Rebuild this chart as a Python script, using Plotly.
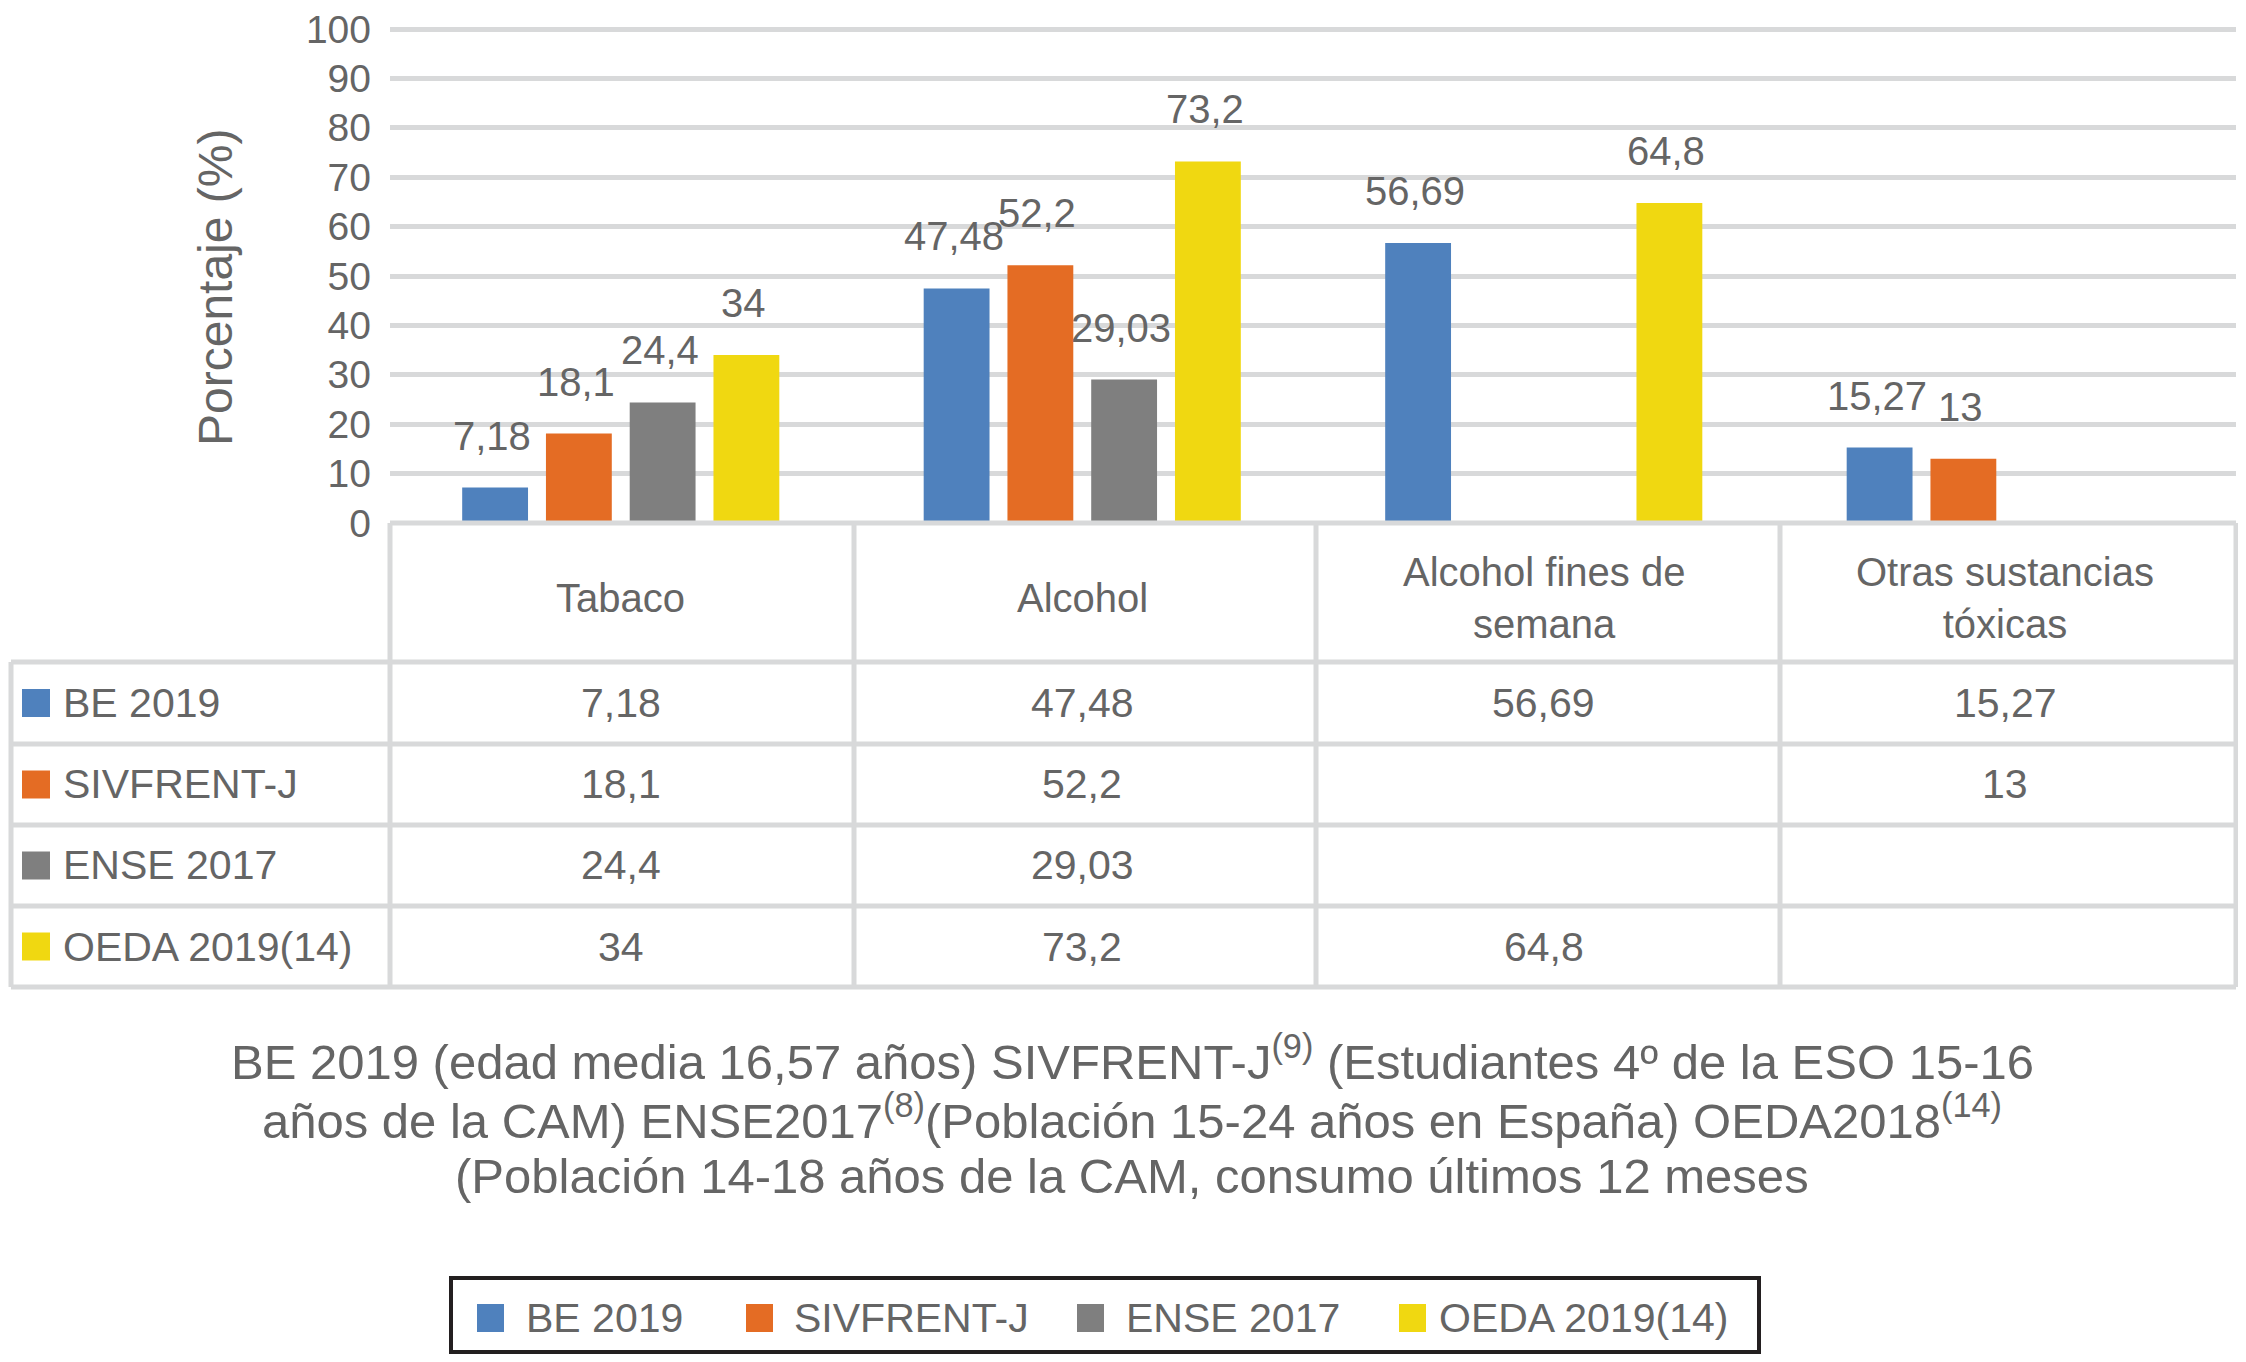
import plotly.graph_objects as go

# Consumo de sustancias: datos
categorias = ["Tabaco", "Alcohol", "Alcohol fines de semana", "Otras sustancias tóxicas"]
cabeceras = ["Tabaco", "Alcohol", "Alcohol fines de<br>semana", "Otras sustancias<br>tóxicas"]

series = ["BE 2019", "SIVFRENT-J", "ENSE 2017", "OEDA 2019(14)"]
be_2019 = [7.18, 47.48, 56.69, 15.27]
sivfrent_j = [18.1, 52.2, None, 13]
ense_2017 = [24.4, 29.03, None, None]
oeda_2019 = [34, 73.2, 64.8, None]
valores = [be_2019, sivfrent_j, ense_2017, oeda_2019]
colores = ["#4f81bd", "#e46c24", "#7f7f7f", "#f0d811"]

ticks_y = list(range(0, 101, 10))

nota = ["BE 2019 (edad media 16,57 años) SIVFRENT-J<sup>(9)</sup> (Estudiantes 4º de la ESO 15-16",
        "años de la CAM) ENSE2017<sup>(8)</sup>(Población 15-24 años en España) OEDA2018<sup>(14)</sup>",
        "(Población 14-18 años de la CAM, consumo últimos 12 meses"]

#%%
# la pagina tiene 8px de margen, la figura ocupa el resto de la ventana
MARGEN = 8
W, H = 2246 - 2 * MARGEN, 1362 - 2 * MARGEN
FONT = "Liberation Sans, Arial, sans-serif"
GRIS = "#656565"
LINEA = "#d8d9da"

def px(x):
    return (x - MARGEN) / W

def py(y):
    return 1 - (y - MARGEN) / H

def fmt(v):
    return "" if v is None else f"{v:g}".replace(".", ",")

# geometria (pixeles de la imagen de referencia)
X0, X1 = 390, 2236
Y_BASE = 523
PX_UNIDAD = 4.94
Y_MAX = 101
Y_TOP = Y_BASE - Y_MAX * PX_UNIDAD
filas = [662, 744, 825, 906, 987]
columnas = [390, 854, 1316, 1780, 2236]
X_IZQ = 11
BARGAP = 0.274

fig = go.Figure()
for nombre, vals, col in zip(series, valores, colores):
    fig.add_trace(go.Bar(x=categorias, y=vals, name=nombre, marker_color=col,
                         marker_line_width=0, showlegend=False))

anots = []
shapes = []

def texto(x, y, t, size=41, xanchor="center", **kw):
    d = dict(x=px(x), y=py(y), xref="paper", yref="paper", text=t, showarrow=False,
             xanchor=xanchor, yanchor="middle", font=dict(size=size, color=GRIS, family=FONT))
    d.update(kw)
    anots.append(d)

# etiquetas de datos sobre las barras
slot = (X1 - X0) / len(categorias) * (1 - BARGAP) / len(series)
for i, vals in enumerate(valores):
    for cat, v in zip(categorias, vals):
        if v is None:
            continue
        anots.append(dict(x=cat, y=v, xref="x", yref="y", text=fmt(v), showarrow=False,
                          xshift=(i - 1.5) * slot - 3, yshift=52, xanchor="center", yanchor="middle",
                          font=dict(size=40, color=GRIS, family=FONT)))

# titulo eje y
texto(215, 288, "Porcentaje (%)", size=48, textangle=-90)

# tabla de datos
for cat, lab in zip(categorias, cabeceras):
    anots.append(dict(x=cat, y=py(598), xref="x", yref="paper", text=lab, showarrow=False,
                      xanchor="center", yanchor="middle", font=dict(size=40, color=GRIS, family=FONT)))

for r, (nombre, vals, col) in enumerate(zip(series, valores, colores)):
    yc = (filas[r] + filas[r + 1]) / 2
    shapes.append(dict(type="rect", xref="paper", yref="paper", x0=px(22), x1=px(50),
                       y0=py(yc - 14), y1=py(yc + 14), fillcolor=col, line_width=0))
    texto(61, yc, nombre, xanchor="left")
    for cat, v in zip(categorias, vals):
        if v is None:
            continue
        anots.append(dict(x=cat, y=py(yc), xref="x", yref="paper", text=fmt(v), showarrow=False,
                          xanchor="center", yanchor="middle", font=dict(size=41, color=GRIS, family=FONT)))

def linea(x0, y0, x1, y1):
    shapes.append(dict(type="line", xref="paper", yref="paper", x0=px(x0), y0=py(y0),
                       x1=px(x1), y1=py(y1), line=dict(color=LINEA, width=5)))

linea(X0, Y_BASE, X1, Y_BASE)
for yy in filas:
    linea(X_IZQ, yy, X1, yy)
for xx in columnas:
    linea(xx, Y_BASE, xx, filas[-1])
linea(X_IZQ, filas[0], X_IZQ, filas[-1])

# nota al pie, una linea por anotacion
for yy, t in zip([1058, 1117, 1176], nota):
    texto(1132, yy, t, size=49)

# leyenda dibujada a mano
LEY_Y0, LEY_Y1 = 1278, 1352
ley_yc = 1318
shapes.append(dict(type="rect", xref="paper", yref="paper", x0=px(451), x1=px(1759),
                   y0=py(LEY_Y0), y1=py(LEY_Y1), line=dict(color="#231f20", width=4)))
ley_cuadros = [477, 746, 1077, 1399]
ley_textos = [524, 792, 1124, 1437]
for nombre, col, xc, xt in zip(series, colores, ley_cuadros, ley_textos):
    shapes.append(dict(type="rect", xref="paper", yref="paper", x0=px(xc), x1=px(xc + 27),
                       y0=py(ley_yc - 14), y1=py(ley_yc + 14), fillcolor=col, line_width=0))
    texto(xt, ley_yc, nombre, xanchor="left")

fig.update_layout(
    width=W, height=H,
    margin=dict(l=0, r=0, t=0, b=0, autoexpand=False),
    paper_bgcolor="white", plot_bgcolor="white",
    barmode="group", bargap=BARGAP, bargroupgap=0.214,
    showlegend=False,
    font=dict(family=FONT, color=GRIS, size=40),
    xaxis=dict(domain=[px(X0), px(X1)], showticklabels=False, showgrid=False, automargin=False,
               zeroline=False, showline=False, categoryorder="array", categoryarray=categorias),
    yaxis=dict(domain=[py(Y_BASE), py(Y_TOP)], range=[0, Y_MAX], tickvals=ticks_y, automargin=False,
               showgrid=True, gridcolor=LINEA, gridwidth=4.5, zeroline=False, showline=False,
               ticklabelstandoff=18, ticklabeloverflow="allow",
               tickfont=dict(size=39, color=GRIS, family=FONT)),
    annotations=anots,
    shapes=shapes,
)

fig.write_html("out.html")
